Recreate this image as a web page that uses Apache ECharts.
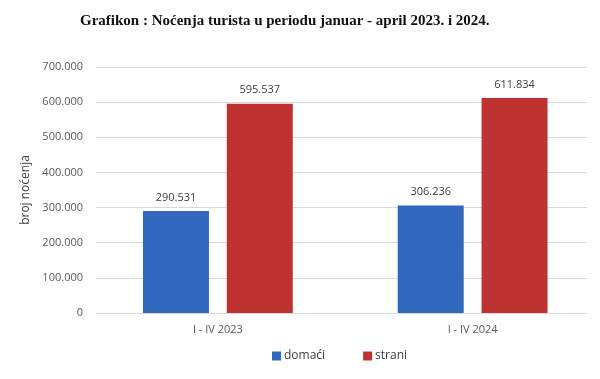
<!DOCTYPE html>
<html><head><meta charset="utf-8">
<script src="https://cdn.jsdelivr.net/npm/echarts@6/dist/echarts.min.js"></script>
<style>html,body{margin:0;padding:0;background:#fff}#c{width:600px;height:379px}</style>
</head><body><div id="c"></div>
<script>
const categories = ['I - IV 2023', 'I - IV 2024'];
const domaci = [290531, 306236];
const strani = [595537, 611834];
const seriesNames = ['domaći', 'strani'];
const yMin = 0, yMax = 700000, yStep = 100000;

const font = 'Open Sans';
const fmt = v => String(v).replace(/\B(?=(\d{3})+(?!\d))/g, '.');
const chart = echarts.init(document.getElementById('c'));
chart.setOption({
  animation: false,
  title: {
    text: 'Grafikon : Noćenja turista u periodu januar - april 2023. i 2024.',
    left: 75, top: 9,
    textStyle: {fontFamily: 'Liberation Serif', fontWeight: 'bold', fontSize: 15, color: '#111'}
  },
  legend: {
    bottom: 12, left: 267, itemWidth: 9, itemHeight: 9, itemGap: 38,
    icon: 'rect', data: seriesNames,
    textStyle: {fontFamily: font, fontSize: 12, color: '#404040', padding: [0,0,0,-2]}
  },
  grid: [
    {left: 96, right: 13, top: 67, bottom: 66},
    {left: 90.5, width: 514, top: 67, bottom: 66}
  ],
  xAxis: [
    {gridIndex: 0, type: 'category', data: categories, axisLine: {show: true, lineStyle: {color: '#d9d9d9'}},
     axisTick: {show: false}, axisLabel: {show: false}},
    {gridIndex: 1, type: 'category', data: categories, axisLine: {show: false}, axisTick: {show: false},
     axisLabel: {fontFamily: font, fontSize: 11, color: '#595959', margin: 11}}
  ],
  yAxis: [
    {gridIndex: 0, type: 'value', min: yMin, max: yMax, interval: yStep,
     name: 'broj noćenja', nameLocation: 'middle', nameGap: 64, nameRotate: 90,
     nameTextStyle: {fontFamily: font, fontSize: 12, color: '#404040'},
     axisLabel: {fontFamily: font, fontSize: 11, color: '#595959', margin: 13, formatter: fmt},
     splitLine: {lineStyle: {color: '#d9d9d9'}}, axisLine: {show: false}, axisTick: {show: false}},
    {gridIndex: 1, type: 'value', min: yMin, max: yMax, interval: yStep, show: false, splitLine: {show: false}}
  ],
  series: [
    {name: seriesNames[0], type: 'bar', xAxisIndex: 1, yAxisIndex: 1, data: domaci, barWidth: 66, barGap: '27%',
     itemStyle: {color: '#3168BE'},
     label: {show: true, position: 'top', distance: 8, fontFamily: font, fontSize: 11, color: '#404040', formatter: p => fmt(p.value)}},
    {name: seriesNames[1], type: 'bar', xAxisIndex: 1, yAxisIndex: 1, data: strani, barWidth: 66, barGap: '27%',
     itemStyle: {color: '#BE3231'},
     label: {show: true, position: 'top', distance: 8, fontFamily: font, fontSize: 11, color: '#404040', formatter: p => fmt(p.value)}}
  ]
});
</script></body></html>
